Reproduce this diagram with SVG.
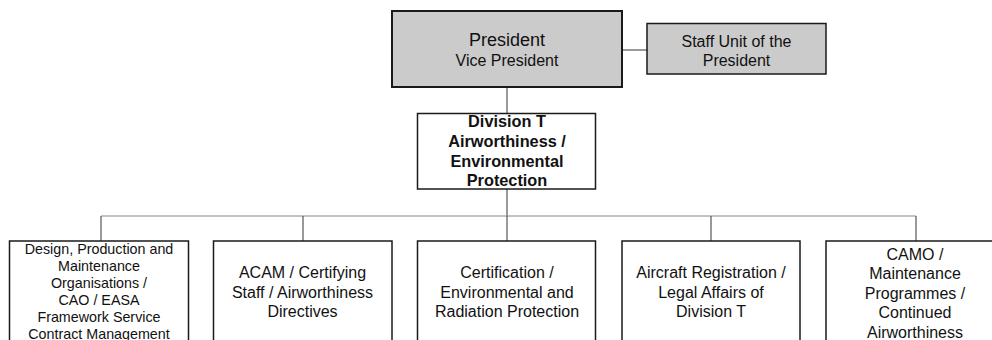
<svg xmlns="http://www.w3.org/2000/svg" width="992" height="340" viewBox="0 0 992 340">
  <style>
    .box { fill: #ffffff; stroke: #1a1a1a; stroke-width: 1.5; }
    .exec { fill: #cbcbcb; stroke: #1a1a1a; stroke-width: 2; }
    .staff { fill: #cbcbcb; stroke: #1a1a1a; stroke-width: 1.5; }
    .link { fill: none; stroke: #555555; stroke-width: 1.2; }
    .bus { fill: none; stroke: #888888; stroke-width: 1.2; }
    text { font-family: "Liberation Sans", Arial, sans-serif; fill: #111111; text-anchor: middle; }
    .t16 { font-size: 16px; }
    .t14 { font-size: 14.3px; }
    .bold { font-size: 16.3px; font-weight: bold; }
  </style>

  <!-- connectors -->
  <g id="connectors">
    <line class="link" x1="622" y1="50" x2="647" y2="50"/>
    <line class="link" x1="507" y1="87" x2="507" y2="113"/>
    <line class="link" x1="507" y1="189" x2="507" y2="216"/>
    <line class="bus" x1="101" y1="216" x2="916" y2="216"/>
    <line class="link" x1="101" y1="216" x2="101" y2="241"/>
    <line class="link" x1="303" y1="216" x2="303" y2="241"/>
    <line class="link" x1="507" y1="216" x2="507" y2="241"/>
    <line class="link" x1="711" y1="216" x2="711" y2="241"/>
    <line class="link" x1="916" y1="216" x2="916" y2="241"/>
  </g>

  <!-- executive -->
  <g id="president">
    <rect class="exec" x="392" y="11" width="230" height="76"/>
    <text x="507" y="45.5" style="font-size:18px">President</text>
    <text x="507" y="65.5" class="t16">Vice President</text>
  </g>

  <g id="staff-unit">
    <rect class="staff" x="647" y="23.5" width="179" height="50.5"/>
    <text x="736.5" y="46.5" class="t16">Staff Unit of the</text>
    <text x="736.5" y="65.5" class="t16">President</text>
  </g>

  <!-- division -->
  <g id="division-t">
    <rect class="box" x="417.5" y="113.5" width="178" height="75.5"/>
    <text x="507" y="127" class="bold">Division T</text>
    <text x="507" y="147" class="bold">Airworthiness /</text>
    <text x="507" y="166.5" class="bold">Environmental</text>
    <text x="507" y="186" class="bold">Protection</text>
  </g>

  <!-- sections -->
  <g id="section-design">
    <rect class="box" x="9.5" y="241" width="179" height="110"/>
    <text x="99" y="253.5" class="t14">Design, Production and</text>
    <text x="99" y="270.5" class="t14">Maintenance</text>
    <text x="99" y="287.5" class="t14">Organisations /</text>
    <text x="99" y="304.5" class="t14">CAO / EASA</text>
    <text x="99" y="321.5" class="t14">Framework Service</text>
    <text x="99" y="338.5" class="t14">Contract Management</text>
  </g>

  <g id="section-acam">
    <rect class="box" x="213.5" y="241" width="178.5" height="110"/>
    <text x="302.5" y="278" class="t16">ACAM / Certifying</text>
    <text x="302.5" y="297.5" class="t16">Staff / Airworthiness</text>
    <text x="302.5" y="317" class="t16">Directives</text>
  </g>

  <g id="section-certification">
    <rect class="box" x="417.5" y="241" width="178" height="110"/>
    <text x="507" y="278" class="t16">Certification /</text>
    <text x="507" y="297.5" class="t16">Environmental and</text>
    <text x="507" y="317" class="t16">Radiation Protection</text>
  </g>

  <g id="section-registration">
    <rect class="box" x="622" y="241" width="178" height="110"/>
    <text x="711" y="278" class="t16">Aircraft Registration /</text>
    <text x="711" y="297.5" class="t16">Legal Affairs of</text>
    <text x="711" y="317" class="t16">Division T</text>
  </g>

  <g id="section-camo">
    <rect class="box" x="826" y="241" width="179" height="110"/>
    <text x="915" y="259.5" class="t16">CAMO /</text>
    <text x="915" y="279" class="t16">Maintenance</text>
    <text x="915" y="298.5" class="t16">Programmes /</text>
    <text x="915" y="318" class="t16">Continued</text>
    <text x="915" y="337.5" class="t16">Airworthiness</text>
  </g>
</svg>
